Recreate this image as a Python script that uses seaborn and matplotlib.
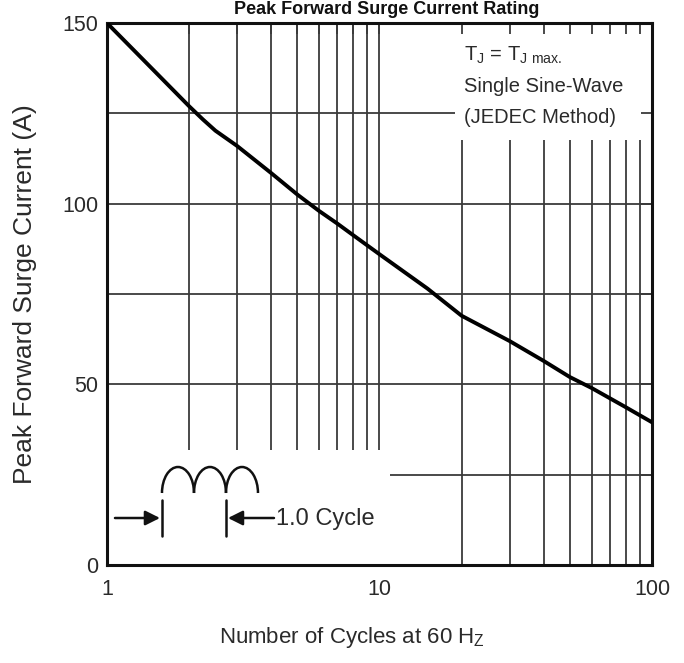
"""
Peak forward surge current vs number of cycles (datasheet style chart)
"""
import numpy as np
import matplotlib
matplotlib.use('Agg')
import matplotlib.pyplot as plt
from matplotlib.patches import Arc
import seaborn as sns

# curve
cycles = [1, 2, 2.25, 2.5, 3, 4, 5, 6, 7, 8, 10, 15, 20, 30, 40, 50, 60, 80, 100]
current = [150, 127, 123.3, 120.2, 116, 108.5, 102.5, 98, 94.5, 91.3, 86, 76.5,
           69, 62, 56.5, 52, 49, 43.7, 39.5]

x_ticks = [1, 10, 100]
x_tick_labels = ['1', '10', '100']
y_ticks = [0, 50, 100, 150]
y_minor = [25, 75, 125]
grid_x_low = [2, 3, 4, 5, 6, 7, 8, 9, 10]
grid_x_high = [20, 30, 40, 50, 60, 70, 80, 90]

note_lines = [r'T$_\mathregular{J}$ = T$_\mathregular{J\ max.}$',
              'Single Sine-Wave', '(JEDEC Method)']

sns.set_style('white')
plt.rcParams['font.family'] = ['Liberation Sans', 'DejaVu Sans']
plt.rcParams['mathtext.fontset'] = 'custom'
plt.rcParams['mathtext.rm'] = 'Liberation Sans'

fig = plt.figure(figsize=(6.84, 6.63), dpi=100)
ax = fig.add_axes([0.1564, 0.1478, 0.7968, 0.8175])

ax.set_xscale('log')
ax.set_xlim(1, 100)
ax.set_ylim(0, 150)

# grid, broken where the notes sit
gc = '#3a3a3a'
ax.vlines(grid_x_low, 31.8, 150, color=gc, lw=1.3, zorder=1)
ax.vlines(grid_x_high, 0, 117.6, color=gc, lw=1.3, zorder=1)
ax.hlines([50, 75, 100], 1, 100, color=gc, lw=1.3, zorder=1)
ax.hlines(125, 1, 18.9, color=gc, lw=1.3, zorder=1)
ax.hlines(25, 10.9, 100, color=gc, lw=1.3, zorder=1)

sns.lineplot(x=cycles, y=current, ax=ax, color='black', lw=2.8, zorder=3)

ax.set_xticks(x_ticks)
ax.set_xticklabels(x_tick_labels)
ax.set_xticks(grid_x_low[:-1] + grid_x_high, minor=True)
ax.xaxis.set_minor_formatter(matplotlib.ticker.NullFormatter())
ax.set_yticks(y_ticks)
ax.set_yticks(y_minor, minor=True)
ax.tick_params(which='both', direction='in', top=True, right=True,
               length=8, width=1.3, color=gc, labelsize=15.5, labelcolor='#2a2a2a')
ax.tick_params(axis='x', pad=10)
ax.tick_params(axis='y', pad=6)

for s in ax.spines.values():
    s.set_linewidth(2.2)
    s.set_color('#111111')

ax.set_xlabel('Number of Cycles at 60 H$_\\mathregular{Z}$', fontsize=16, color='#2a2a2a')
ax.xaxis.set_label_coords(0.45, -0.11)
ax.set_ylabel('Peak Forward Surge Current (A)', fontsize=19, color='#2a2a2a')
ax.yaxis.set_label_coords(-0.128, 0.5)

# notes in top right
for i, line in enumerate(note_lines):
    ax.text(0.655, 0.941 - i * 0.058, line, transform=ax.transAxes,
            fontsize=14.5, va='center', ha='left', color='#2a2a2a')

# cycle sketch in the lower left
def px(xp, yp):
    return ((xp - 107) / 545, (565 - yp) / 542)

arch_w = 32 / 545
arch_h = 52 / 542
for k in range(3):
    cx, cy = px(162 + 16 + 32 * k, 493)
    ax.add_patch(Arc((cx, cy), arch_w, arch_h, theta1=0, theta2=180,
                     transform=ax.transAxes, lw=1.8, color='#111111', zorder=4))
for xb in (162, 226):
    x0, y0 = px(xb, 500)
    _, y1 = px(xb, 536)
    ax.plot([x0, x0], [y0, y1], transform=ax.transAxes, color='#111111', lw=1.8, zorder=4)
ax.annotate('', xy=px(160, 518), xytext=px(115, 518), xycoords='axes fraction',
            arrowprops=dict(arrowstyle='-|>', color='#111111', lw=1.8,
                            mutation_scale=22, shrinkA=0, shrinkB=0))
ax.annotate('', xy=px(228, 518), xytext=px(274, 518), xycoords='axes fraction',
            arrowprops=dict(arrowstyle='-|>', color='#111111', lw=1.8,
                            mutation_scale=22, shrinkA=0, shrinkB=0))
ax.text(*px(276, 519), '1.0 Cycle', transform=ax.transAxes, fontsize=17,
        va='center', ha='left', color='#2a2a2a')

# title squeezed into the strip above the plot
fig.text(0.565, 0.998, 'Peak Forward Surge Current Rating', fontsize=13,
         fontweight='bold', ha='center', va='top', color='#111111')

fig.savefig('out.png', dpi=100)
